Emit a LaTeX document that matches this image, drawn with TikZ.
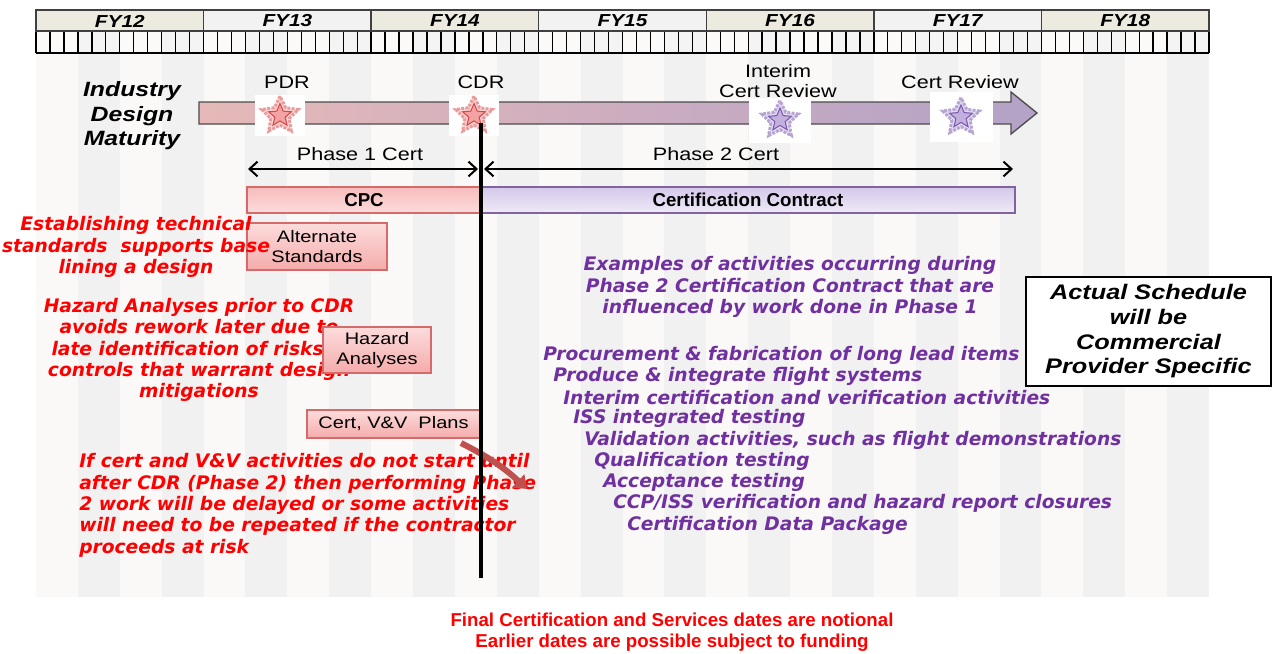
\documentclass[tikz,border=0pt]{standalone}
\usepackage{fontspec}
\setmainfont{Liberation Sans}[FakeStretch=1.2]
\newfontfamily\plainsans{Liberation Sans}
\newfontfamily\noteface{DejaVu Sans}[ItalicFont={DejaVu Sans Oblique},BoldFont={DejaVu Sans Bold},BoldItalicFont={DejaVu Sans Bold Oblique}]
\usepackage{xcolor}
\usepackage{tikz}
\usetikzlibrary{arrows.meta}
\usetikzlibrary{shapes.geometric}
\usetikzlibrary{positioning}
\definecolor{stripegray}{HTML}{F1F1F1}
\definecolor{stripewhite}{HTML}{FAF9F7}
\definecolor{fybeige}{HTML}{EDEBE0}
\definecolor{fygray}{HTML}{F2F2F2}
\definecolor{arrowpink}{HTML}{E6B9B8}
\definecolor{arrowlav}{HTML}{B3A2C7}
\definecolor{boxred}{HTML}{D46A6A}
\definecolor{boxtop}{HTML}{FCDCDC}
\definecolor{boxbot}{HTML}{F5ABAB}
\definecolor{lavtop}{HTML}{D5C8EA}
\definecolor{lavbot}{HTML}{EFEAF7}
\definecolor{lavline}{HTML}{8064A2}
\definecolor{notered}{HTML}{FF0000}
\definecolor{notepurple}{HTML}{7030A0}
\definecolor{darkred}{HTML}{C0504D}
\definecolor{starpink}{HTML}{F4A3A3}
\definecolor{starred}{HTML}{D94848}
\definecolor{starlav}{HTML}{C3B0DE}
\definecolor{starpurple}{HTML}{7A5AAE}

\tikzset{
  fylabel/.style={font=\fontsize{13}{14}\selectfont\bfseries\itshape},
  milelabel/.style={font=\fontsize{13.5}{15.5}\selectfont, align=center, inner sep=0pt},
  starbox/.style={fill=white, draw=none, inner sep=0pt},
  halo/.style={star, star points=5, star point ratio=2.0, minimum size=29pt, inner sep=0pt, densely dotted, line width=2.2pt},
  core/.style={star, star points=5, star point ratio=2.2, minimum size=18pt, inner sep=0pt, line width=0.8pt},
  pinkhalo/.style={halo, draw=starred!55, fill=starpink!45},
  pinkcore/.style={core, draw=starred, fill=starpink},
  purplehalo/.style={halo, draw=starpurple!55, fill=starlav!45},
  purplecore/.style={core, draw=starpurple, fill=starlav},
  phasearrow/.style={line width=1.5pt, >={Straight Barb[length=6pt,width=11pt]}, <->},
  cpcbar/.style={draw=boxred, line width=0.8pt, top color=boxbot!80, bottom color=boxtop, inner sep=0pt,
    font=\plainsans\fontsize{14}{16}\selectfont\bfseries},
  contractbar/.style={cpcbar, draw=lavline, top color=lavtop, bottom color=lavbot},
  taskbox/.style={draw=boxred, line width=0.8pt, top color=boxtop, bottom color=boxbot, inner sep=0pt,
    align=center, font=\fontsize{12.5}{15}\selectfont},
  rednote/.style={text=notered, align=center, inner sep=0pt,
    font=\noteface\fontsize{14}{16}\selectfont\bfseries\itshape},
  purplenote/.style={rednote, text=notepurple}
}

\begin{document}
\begin{tikzpicture}[x=0.75pt, y=-0.75pt]
    \useasboundingbox (0,0) rectangle (1273,653);

    % quarter stripes, also in the month row
    \foreach \q in {0,...,27} {
        \pgfmathsetmacro\qx{36+\q*41.893}
        \ifodd\q \def\qc{stripegray}\else \def\qc{stripewhite}\fi
        \fill[\qc] (\qx,53) rectangle (\qx+41.893,597);
        \fill[\qc!80!white] (\qx,31) rectangle (\qx+41.893,53);
    }
    \foreach \m in {0,...,84}
        \draw[line width=1pt] (36+\m*13.964,31) -- (36+\m*13.964,53);
    \draw[line width=1pt] (36,53) -- (1209,53);

    % fiscal years
    \foreach \i/\yr/\c in {
        0/12/fybeige, 1/13/fygray, 2/14/fybeige, 3/15/fygray,
        4/16/fybeige, 5/17/fygray, 6/18/fybeige} {
        \draw[fill=\c, draw=black!75, line width=1pt]
            (36+\i*167.57,10) rectangle (36+\i*167.57+167.57,31);
        \node[fylabel] (fy\yr) at (36+\i*167.57+83.8,21) {FY\yr};
    }

    % design maturity arrow
    \shadedraw[left color=arrowpink, right color=arrowlav, draw=black!70, line width=1pt]
        (199,102) -- (1011,102) -- (1011,92) -- (1037,113) -- (1011,134)
        -- (1011,124) -- (199,124) -- cycle;
    \node[font=\fontsize{15.5}{18.4}\selectfont\bfseries\itshape, align=center] (maturity)
        at (132,116) {Industry\\Design\\Maturity};

    % milestones
    \foreach \n/\x/\y/\w/\h/\k in {
        pdr/280/115.5/37.5/30.75/pink,
        cdr/474/115.5/37.5/30.75/pink,
        icr/780/120/46.5/33.75/purple,
        cr/961/117/47.25/37.5/purple} {
        \node[starbox, minimum width=\w pt, minimum height=\h pt] (\n-box) at (\x,\y) {};
        \node[\k halo] (\n-halo) at (\n-box) {};
        \node[\k core] (\n-star) at (\n-box) {};
    }
    \node[milelabel] (pdr-lbl) at (287,82) {PDR};
    \node[milelabel] (cdr-lbl) at (481,82) {CDR};
    \node[milelabel] (icr-lbl) at (778,81) {Interim\\Cert Review};
    \node[milelabel] (cr-lbl) at (960,82) {Cert Review};

    % phases
    \coordinate (p1-start) at (248,169);
    \coordinate (p1-end) at (478,169);
    \coordinate (p2-start) at (484,169);
    \coordinate (p2-end) at (1013,169);
    \draw[phasearrow] (p1-start) -- (p1-end);
    \draw[phasearrow] (p2-start) -- (p2-end);
    \node[milelabel] (phase1) at (360,154) {Phase 1 Cert};
    \node[milelabel] (phase2) at (716,154) {Phase 2 Cert};

    \node[cpcbar, minimum width=175.5pt, minimum height=19.5pt] (cpc) at (364,200) {CPC};
    \node[contractbar, minimum width=400.5pt, minimum height=19.5pt] (contract) at (748,200)
        {Certification Contract};

    % phase 1 work
    \node[taskbox, minimum width=105pt, minimum height=35.25pt] (altstd) at (317,246.5)
        {Alternate\\Standards};
    \node[rednote] (std-note) at (136,247)
        {Establishing technical\\standards\ \ supports base\\lining a design};
    \node[rednote] (haz-note) at (199,350)
        {Hazard Analyses prior to CDR\\avoids rework later due to\\late identification of risks \&\\controls that warrant design\\mitigations};
    \node[taskbox, minimum width=81pt, minimum height=34.5pt] (hazard) at (377,350)
        {Hazard\\Analyses};
    \node[taskbox, minimum width=129.75pt, minimum height=21pt] (vvplans) at (393.5,424)
        {Cert, V\&V\ \ Plans};
    \node[rednote, align=left, anchor=west] (vv-note) at (79,505.5)
        {If cert and V\&V activities do not start until\\after CDR (Phase 2) then performing Phase\\2 work will be delayed or some activities\\will need to be repeated if the contractor\\proceeds at risk};

    % phase 2 examples
    \node[purplenote] (examples) at (790,287)
        {Examples of activities occurring during\\Phase 2 Certification Contract that are\\influenced by work done in Phase 1};
    \foreach \i/\x/\t in {
        0/543/{Procurement \& fabrication of long lead items},
        1/553/{Produce \& integrate flight systems},
        2/563/{Interim certification and verification activities},
        3/573/{ISS integrated testing},
        4/584/{Validation activities, such as flight demonstrations},
        5/594/{Qualification testing},
        6/603/{Acceptance testing},
        7/613/{CCP/ISS verification and hazard report closures},
        8/627/{Certification Data Package}}
        \node[purplenote, anchor=west] (act\i) at (\x,355+\i*21.25) {\t};

    % late start arrow and CDR line
    \coordinate (late-start) at (461,443);
    \coordinate (late-end) at (527,489);
    \draw[darkred, line width=4.5pt, -{Triangle[length=9pt,width=13pt]}]
        (late-start) to[bend left=8] (late-end);
    \coordinate (cdr-top) at (481,123);
    \coordinate (cdr-bottom) at (481,578);
    \draw[line width=2.4pt] (cdr-top) -- (cdr-bottom);

    \node[draw, line width=1.2pt, fill=white, minimum width=183.75pt, minimum height=81.75pt,
        align=center, font=\fontsize{15.8}{18.5}\selectfont\bfseries\itshape] (actual)
        at (1148.5,331.5) {Actual Schedule\\will be\\Commercial\\Provider Specific};

    \node[text=notered, align=center, font=\plainsans\fontsize{14}{15.75}\selectfont\bfseries]
        (dates-note) at (672,632)
        {Final Certification and Services dates are notional\\Earlier dates are possible subject to funding};
\end{tikzpicture}
\end{document}
